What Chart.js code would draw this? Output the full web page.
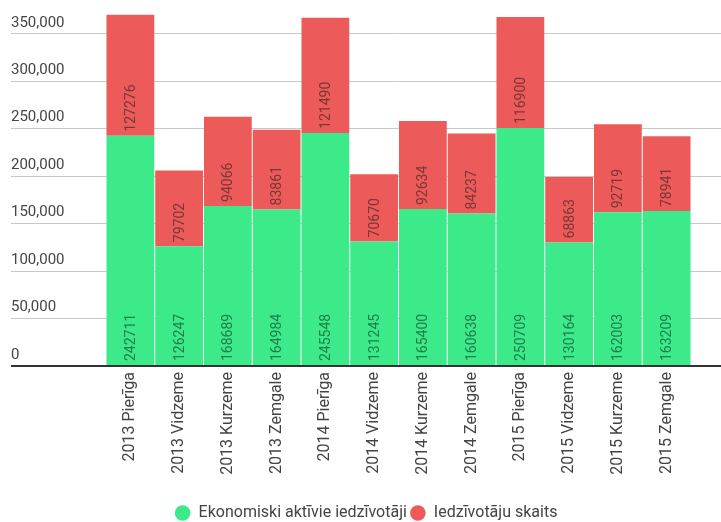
<!DOCTYPE html>
<html>
<head>
<meta charset="utf-8">
<script src="https://cdn.jsdelivr.net/npm/chart.js@4/dist/chart.umd.min.js"></script>
<style>
  html, body { margin: 0; padding: 0; background: #fff; }
  #wrap { width: 721px; height: 522px; }
</style>
</head>
<body>
<div id="wrap"><canvas id="chart"></canvas></div>
<script>
var categories = ['2013 Pierīga', '2013 Vidzeme', '2013 Kurzeme', '2013 Zemgale',
                  '2014 Pierīga', '2014 Vidzeme', '2014 Kurzeme', '2014 Zemgale',
                  '2015 Pierīga', '2015 Vidzeme', '2015 Kurzeme', '2015 Zemgale'];
var activeResidents = [242711, 126247, 168689, 164984, 245548, 131245, 165400, 160638, 250709, 130164, 162003, 163209];
var residents = [127276, 79702, 94066, 83861, 121490, 70670, 92634, 84237, 116900, 68863, 92719, 78941];
var yTicks = [0, 50000, 100000, 150000, 200000, 250000, 300000, 350000];

var labelColors = ['#1d7e47', '#7a3636'];

// numbers written inside each bar segment, reading upwards from its base
var barLabels = {
    id: 'barLabels',
    afterDatasetsDraw: function(chart) {
        var ctx = chart.ctx;
        chart.data.datasets.forEach(function(ds, di) {
            var meta = chart.getDatasetMeta(di);
            meta.data.forEach(function(bar, i) {
                ctx.save();
                ctx.translate(bar.x, bar.base - 4);
                ctx.rotate(-Math.PI / 2);
                ctx.font = '14px Roboto';
                ctx.fillStyle = labelColors[di];
                ctx.textAlign = 'left';
                ctx.textBaseline = 'middle';
                ctx.fillText(String(ds.data[i]), 0, 1);
                ctx.restore();
            });
        });
    }
};

function keepTicks(scale) {
    scale.ticks = yTicks.map(function(v) { return {value: v}; });
}

function gridColor(c) { return c.tick && c.tick.value === 0 ? '#333' : '#c8c8c8'; }
function gridWidth(c) { return c.tick && c.tick.value === 0 ? 2 : 1; }

var ctx = document.getElementById('chart').getContext('2d');
var myChart = new Chart(ctx, {
    type: 'bar',
    data: {
        labels: categories,
        datasets: [
            {
                label: 'Ekonomiski aktīvie iedzīvotāji',
                data: activeResidents,
                backgroundColor: '#3cea8a',
                barPercentage: 0.98,
                categoryPercentage: 1
            },
            {
                label: 'Iedzīvotāju skaits',
                data: residents,
                backgroundColor: '#ec5b5a',
                barPercentage: 0.98,
                categoryPercentage: 1
            }
        ]
    },
    plugins: [barLabels],
    options: {
        responsive: true,
        maintainAspectRatio: false,
        animation: false,
        layout: {padding: {left: 11, top: 4, right: 0, bottom: -9}},
        plugins: {
            tooltip: {enabled: false},
            legend: {
                position: 'bottom',
                labels: {
                    usePointStyle: true,
                    pointStyle: 'circle',
                    boxHeight: 11,
                    boxWidth: 16,
                    padding: 3,
                    color: '#444',
                    font: {family: 'Roboto', size: 16}
                }
            }
        },
        scales: {
            x: {
                stacked: true,
                grid: {display: false, drawTicks: false},
                border: {display: false},
                ticks: {
                    minRotation: 90,
                    maxRotation: 90,
                    autoSkip: false,
                    padding: 6,
                    color: '#444',
                    font: {family: 'Roboto', size: 16}
                },
                afterFit: function(scale) { scale.height = 136; }
            },
            y: {
                stacked: true,
                min: 0,
                max: 373000,
                afterBuildTicks: keepTicks,
                border: {display: false},
                grid: {tickLength: 95, color: gridColor, lineWidth: gridWidth},
                ticks: {
                    crossAlign: 'far',
                    labelOffset: -11,
                    color: '#444',
                    font: {family: 'Roboto', size: 15},
                    callback: function(v) { return v.toLocaleString('en-US'); }
                },
                afterFit: function(scale) { scale.width = 95; }
            },
            y2: {
                position: 'right',
                min: 0,
                max: 373000,
                afterBuildTicks: keepTicks,
                border: {display: false},
                grid: {drawOnChartArea: false, tickLength: 30, color: gridColor, lineWidth: gridWidth},
                ticks: {display: false},
                afterFit: function(scale) { scale.width = 30; }
            }
        }
    }
});
</script>
</body>
</html>
